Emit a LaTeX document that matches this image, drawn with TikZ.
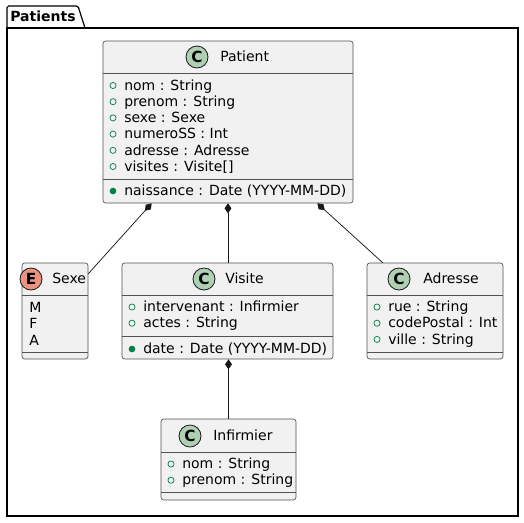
\documentclass[tikz,border=0pt]{standalone}
\usepackage{fontspec}
\setmainfont{DejaVu Sans}
\usetikzlibrary{arrows.meta,calc,fit}
\definecolor{umlfill}{HTML}{F1F1F1}
\definecolor{umlborder}{HTML}{181818}
\definecolor{umlgreen}{HTML}{038048}
\definecolor{classbadge}{HTML}{ADD1B2}
\definecolor{enumbadge}{HTML}{EB937F}
\tikzset{
  cls/.style={draw=umlborder!75, fill=umlfill, rounded corners=2pt, line width=0.5pt, inner sep=0pt},
  sepline/.style={draw=umlborder!75, line width=0.5pt},
  txt/.style={anchor=mid west, inner sep=0pt, yshift=-0.8pt},
  vispub/.style={circle, draw=umlgreen, line width=0.55pt, minimum size=4.6pt, inner sep=0pt},
  vismeth/.style={circle, fill=umlgreen, minimum size=5pt, inner sep=0pt},
  badge/.style={circle, draw=umlborder, line width=0.6pt, minimum size=16.5pt, inner sep=0pt, font=\fontsize{11.5}{12}\selectfont\bfseries},
  comp/.style={draw=umlborder, line width=0.55pt, -{Diamond[length=7.5pt,width=5.2pt]}},
  pkgline/.style={draw=black, line width=0.9pt}
}
\begin{document}
\begin{tikzpicture}[x=0.75pt,y=-0.75pt, font=\fontsize{10.5}{12}\selectfont]
\useasboundingbox (0,0) rectangle (524,522);
\fill[white] (0,0) rectangle (524,522);
% package
\draw[pkgline, rounded corners=1.2pt] (7,28) -- (7,6) -- (78,6) -- (85,28);
\node[pkgline, fit={(7,28) (518,516)}, inner sep=0pt] (pkg) {};
\node[txt, font=\fontsize{10.5}{12}\selectfont\bfseries] (pkgtitle) at (10,17) {Patients};

% Patient
\node[cls, fit={(103,41) (353,203)}] (patient) {};
\node[badge, fill=classbadge] (patientbadge) at (197,57) {C};
\node[txt] (patientname) at (220,57) {Patient};
\draw[sepline] (patient.west |- 0,73) -- (patient.east |- 0,73);
\draw[sepline] (patient.west |- 0,179) -- (patient.east |- 0,179);
\foreach \i/\t in {0/{nom : String},1/{prenom : String},2/{sexe : Sexe},3/{numeroSS : Int},4/{adresse : Adresse},5/{visites : Visite[]}}{
  \node[vispub] (pv\i) at (113,85.5+16.2*\i) {};
  \node[txt] (pa\i) at (124,85.5+16.2*\i) {\t};
}
\node[vismeth] (pm0) at (113,191) {};
\node[txt] (pmt0) at (124,191) {naissance : Date (YYYY-MM-DD)};

% Sexe
\node[cls, fit={(22,263) (88,359)}] (sexe) {};
\node[badge, fill=enumbadge] (sexebadge) at (31,279) {E};
\node[txt] (sexename) at (52,279) {Sexe};
\draw[sepline] (sexe.west |- 0,295) -- (sexe.east |- 0,295);
\draw[sepline] (sexe.west |- 0,352) -- (sexe.east |- 0,352);
\node[txt] (sexeM) at (29,308) {M};
\node[txt] (sexeF) at (29,324.2) {F};
\node[txt] (sexeA) at (29,340.4) {A};

% Visite
\node[cls, fit={(122,263) (333,359)}] (visite) {};
\node[badge, fill=classbadge] (visitebadge) at (204,279) {C};
\node[txt] (visitename) at (225,279) {Visite};
\draw[sepline] (visite.west |- 0,295) -- (visite.east |- 0,295);
\draw[sepline] (visite.west |- 0,336) -- (visite.east |- 0,336);
\node[vispub] (vv0) at (132,307) {};
\node[txt] (va0) at (143,307) {intervenant : Infirmier};
\node[vispub] (vv1) at (132,323.2) {};
\node[txt] (va1) at (143,323.2) {actes : String};
\node[vismeth] (vm0) at (132,349) {};
\node[txt] (vmt0) at (143,349) {date : Date (YYYY-MM-DD)};

% Adresse
\node[cls, fit={(367,263) (503,359)}] (adresse) {};
\node[badge, fill=classbadge] (adressebadge) at (399,279) {C};
\node[txt] (adressename) at (423,279) {Adresse};
\draw[sepline] (adresse.west |- 0,295) -- (adresse.east |- 0,295);
\draw[sepline] (adresse.west |- 0,352) -- (adresse.east |- 0,352);
\node[vispub] (av0) at (377,307) {};
\node[txt] (aa0) at (388,307) {rue : String};
\node[vispub] (av1) at (377,323.2) {};
\node[txt] (aa1) at (388,323.2) {codePostal : Int};
\node[vispub] (av2) at (377,339.4) {};
\node[txt] (aa2) at (388,339.4) {ville : String};

% Infirmier
\node[cls, fit={(161,419) (296,500)}] (infirmier) {};
\node[badge, fill=classbadge] (infbadge) at (190,436) {C};
\node[txt] (infname) at (213,436) {Infirmier};
\draw[sepline] (infirmier.west |- 0,452) -- (infirmier.east |- 0,452);
\draw[sepline] (infirmier.west |- 0,492) -- (infirmier.east |- 0,492);
\node[vispub] (iv0) at (171,464) {};
\node[txt] (ia0) at (182,464) {nom : String};
\node[vispub] (iv1) at (171,480.2) {};
\node[txt] (ia1) at (182,480.2) {prenom : String};

% connectors (composition)
\draw[comp] ($(sexe.north east)+(0,11)$) -- ($(patient.south west)+(49,0)$);
\draw[comp] (visite.north -| patient.south) -- (patient.south);
\draw[comp] ($(adresse.north west)+(16,0)$) -- ($(patient.south east)+(-36,0)$);
\draw[comp] (infirmier.north) -- (infirmier.north |- visite.south);
\end{tikzpicture}
\end{document}
